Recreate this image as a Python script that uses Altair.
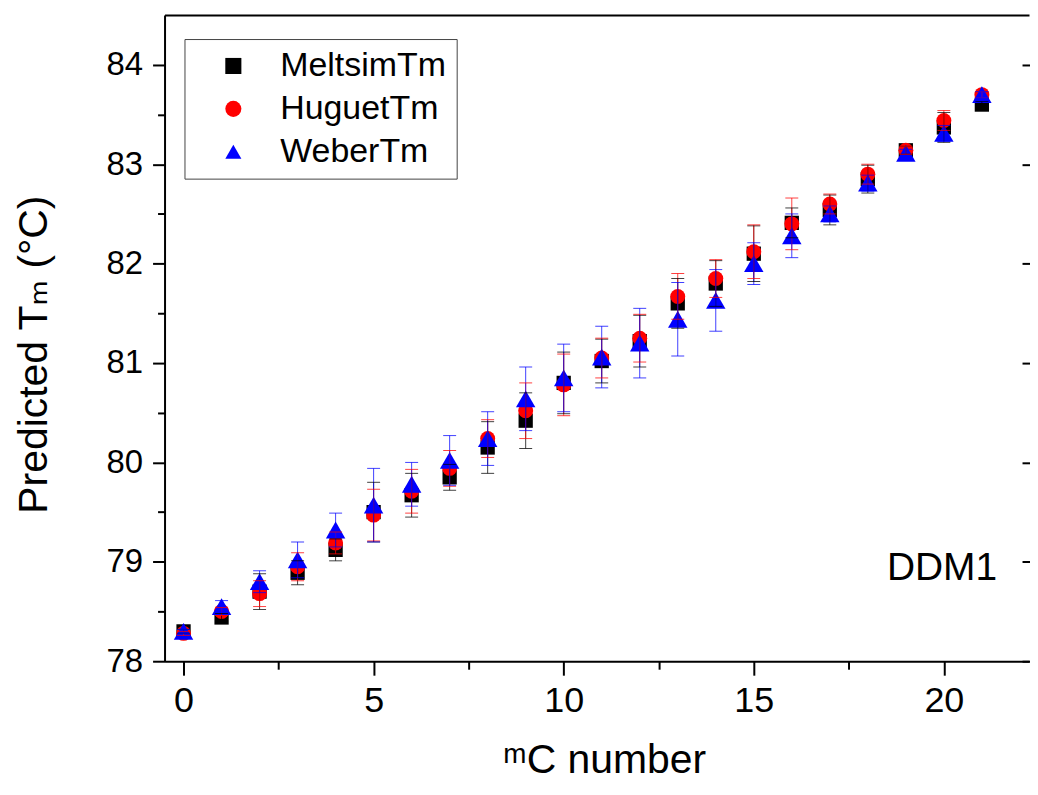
import altair as alt
import pandas as pd

# ---- data ----
x_vals = list(range(22))
series_names = ["MeltsimTm", "HuguetTm", "WeberTm"]
series_colors = ["#000000", "#FF0000", "#0000FF"]
series_shapes = ["square", "circle", "triangle-up"]
series_sizes = [205, 225, 380]

meltsim = [78.30, 78.44, 78.70, 78.89, 79.12, 79.50, 79.67, 79.85, 80.15, 80.42, 80.80,
           81.02, 81.22, 81.60, 81.80, 82.10, 82.41, 82.54, 82.85, 83.14, 83.37, 83.60]
meltsim_sd = [0.02, 0.04, 0.18, 0.12, 0.11, 0.30, 0.22, 0.13, 0.26, 0.28, 0.31,
              0.22, 0.26, 0.25, 0.23, 0.28, 0.15, 0.15, 0.14, 0.04, 0.15, 0.03]
huguet = [78.28, 78.50, 78.68, 78.95, 79.19, 79.47, 79.71, 79.94, 80.24, 80.52, 80.78,
          81.05, 81.25, 81.67, 81.85, 82.12, 82.40, 82.60, 82.90, 83.14, 83.44, 83.70]
huguet_sd = [0.02, 0.04, 0.13, 0.14, 0.11, 0.26, 0.22, 0.18, 0.19, 0.28, 0.31,
             0.20, 0.24, 0.23, 0.19, 0.27, 0.26, 0.10, 0.10, 0.04, 0.10, 0.03]
weber = [78.30, 78.55, 78.80, 79.02, 79.32, 79.57, 79.78, 80.02, 80.24, 80.64, 80.85,
         81.06, 81.20, 81.44, 81.63, 82.00, 82.28, 82.50, 82.81, 83.11, 83.31, 83.70]
weber_sd = [0.02, 0.06, 0.11, 0.18, 0.17, 0.37, 0.22, 0.25, 0.27, 0.32, 0.34,
            0.31, 0.35, 0.37, 0.31, 0.21, 0.22, 0.08, 0.08, 0.04, 0.08, 0.03]

x_major_minor = [0, 2.5, 5, 7.5, 10, 12.5, 15, 17.5, 20]
y_major_minor = [78, 78.5, 79, 79.5, 80, 80.5, 81, 81.5, 82, 82.5, 83, 83.5, 84]
y_major = [78, 79, 80, 81, 82, 83, 84]
annotation = ["DDM1"]

rows = []
for name, ys, sds in [("MeltsimTm", meltsim, meltsim_sd),
                      ("HuguetTm", huguet, huguet_sd),
                      ("WeberTm", weber, weber_sd)]:
    for xv, yv, sv in zip(x_vals, ys, sds):
        rows.append({"x": xv, "y": yv, "lo": yv - sv, "hi": yv + sv, "series": name})
df = pd.DataFrame(rows)

FONT = "Liberation Sans, Arial, DejaVu Sans"

xscale = alt.Scale(domain=[-0.5, 22.24], nice=False, zero=False)
yscale = alt.Scale(domain=[78, 84.5], nice=False, zero=False)
cscale = alt.Scale(domain=series_names, range=series_colors)
sscale = alt.Scale(domain=series_names, range=series_shapes)

x_axis = alt.Axis(
    values=x_major_minor,
    labelExpr="datum.value % 5 == 0 ? datum.label : ''",
    tickSize={"condition": {"test": "datum.value % 5 != 0", "value": 8}, "value": 14},
    title="ᵐC number",
    titleFontSize=41, titleFontWeight="normal", titleFont=FONT,
    titleX=441, titleY=112, titleBaseline="alphabetic", titleAlign="center",
    labelFontSize=36, labelFont=FONT, labelPadding=8,
    domainColor="black", domainWidth=2, tickColor="black", tickWidth=2,
    labelColor="black", titleColor="black", grid=False,
)
y_axis = alt.Axis(
    values=y_major_minor,
    format=".0f",
    labelExpr="datum.value % 1 == 0 ? datum.label : ''",
    tickSize={"condition": {"test": "datum.value % 1 != 0", "value": 7}, "value": 12},
    title="Predicted Tₘ (°C)",
    titleFontSize=41, titleFontWeight="normal", titleFont=FONT,
    titleX=-118, titleY=340, titleAngle=270, titleAlign="center", titleBaseline="alphabetic",
    labelFontSize=33, labelFont=FONT, labelPadding=10,
    domainColor="black", domainWidth=2, tickColor="black", tickWidth=2,
    labelColor="black", titleColor="black", grid=False,
)

base = alt.Chart(df)

point_layers = []
for i, (name, size) in enumerate(zip(series_names, series_sizes)):
    layer = base.transform_filter(alt.datum.series == name).mark_point(
        filled=True, opacity=1, strokeWidth=0, size=size
    ).encode(
        x=alt.X("x:Q", scale=xscale, axis=x_axis if i == 0 else None),
        y=alt.Y("y:Q", scale=yscale, axis=y_axis if i == 0 else None),
        color=alt.Color("series:N", scale=cscale, legend=alt.Legend(title=None)),
        shape=alt.Shape("series:N", scale=sscale, legend=alt.Legend(title=None)),
    )
    point_layers.append(layer)

bars = base.mark_rule(strokeWidth=1, opacity=0.75).encode(
    x=alt.X("x:Q", scale=xscale, axis=None),
    y=alt.Y("lo:Q", scale=yscale, axis=None),
    y2="hi:Q",
    color=alt.Color("series:N", scale=cscale, legend=None),
)

caps_lo = base.mark_tick(orient="horizontal", size=13, thickness=1, opacity=0.75).encode(
    x=alt.X("x:Q", scale=xscale, axis=None),
    y=alt.Y("lo:Q", scale=yscale, axis=None),
    color=alt.Color("series:N", scale=cscale, legend=None),
)

caps_hi = base.mark_tick(orient="horizontal", size=13, thickness=1, opacity=0.75).encode(
    x=alt.X("x:Q", scale=xscale,
            axis=alt.Axis(orient="top", labels=False, ticks=False, domain=True,
                          domainColor="black", domainWidth=2, title=None, grid=False)),
    y=alt.Y("hi:Q", scale=yscale,
            axis=alt.Axis(orient="right", values=y_major, labels=False, domain=False,
                          tickSize=12, tickWidth=2, tickColor="black", offset=-7,
                          title=None, grid=False)),
    color=alt.Color("series:N", scale=cscale, legend=None),
)

label = alt.Chart(pd.DataFrame({"t": annotation})).mark_text(
    font=FONT, fontSize=39, align="right", baseline="alphabetic", color="black"
).encode(text="t:N", x=alt.value(835), y=alt.value(567))

chart = alt.layer(*point_layers, bars, caps_lo, caps_hi, label).resolve_axis(
    x="independent", y="independent"
).properties(
    width=867, height=648,
    autosize=alt.AutoSizeParams(type="none"),
    padding={"left": 157, "top": 6, "right": 1, "bottom": 121},
).configure_view(stroke=None).configure_legend(
    orient="none", legendX=20, legendY=24,
    strokeColor="#444444", strokeWidth=1, fillColor="white",
    padding=10, rowPadding=9, symbolSize=260, symbolOffset=22,
    labelFont=FONT, labelFontSize=34, labelColor="black", labelOffset=30,
    symbolStrokeWidth=0, labelLimit=400,
)

chart.save("out.html", embed_options={"renderer": "svg", "actions": False})
